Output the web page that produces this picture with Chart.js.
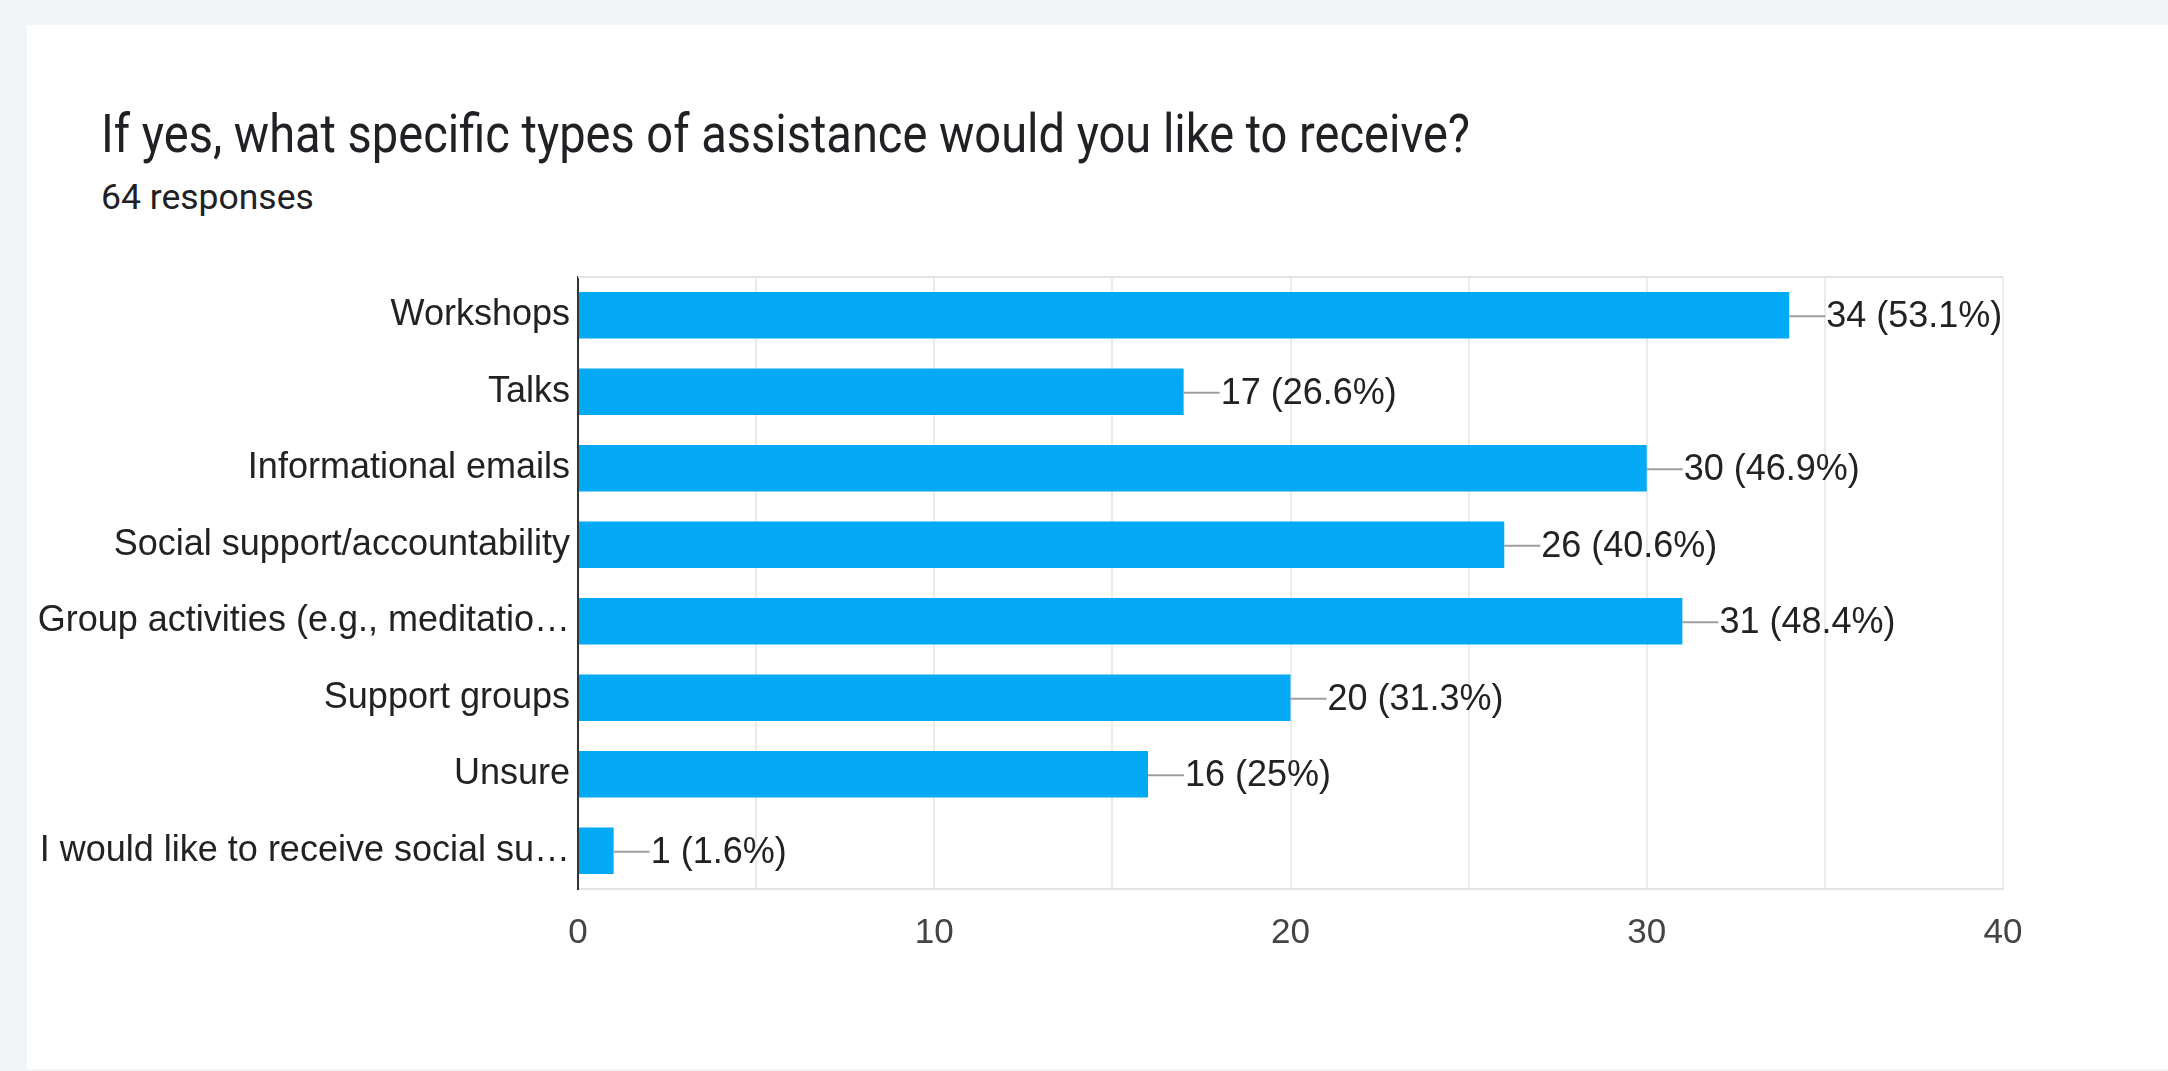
<!DOCTYPE html>
<html>
<head>
<meta charset="utf-8">
<title>If yes, what specific types of assistance would you like to receive?</title>
<script src="https://cdn.jsdelivr.net/npm/chart.js@4/dist/chart.umd.min.js"></script>
<style>
  html, body {
    margin: 0;
    padding: 0;
    width: 2168px;
    height: 1071px;
    overflow: hidden;
    background: #f1f5f7;
  }
  .card {
    position: absolute;
    left: 27px;
    top: 25px;
    right: 0;
    bottom: 2px;
    background: #ffffff;
  }
  .title {
    position: absolute;
    left: 101px;
    top: 103px;
    margin: 0;
    font-family: Roboto, "Noto Sans", sans-serif;
    font-weight: 400;
    font-size: 47px;
    line-height: 66px;
    color: #202124;
    white-space: nowrap;
    transform: scaleY(1.14);
    transform-origin: 0 49px;
  }
  .subtitle {
    position: absolute;
    left: 101px;
    top: 175px;
    margin: 0;
    font-family: Roboto, "Noto Sans", sans-serif;
    font-size: 35.5px;
    line-height: 44px;
    color: #202124;
    white-space: nowrap;
  }
  #chart {
    position: absolute;
    left: 0;
    top: 0;
  }
</style>
</head>
<body>
<div class="card"></div>
<h1 class="title">If yes, what specific types of assistance would you like to receive?</h1>
<p class="subtitle">64 responses</p>
<canvas id="chart" width="2168" height="1071"></canvas>

<script>
// Réponses au formulaire
const totalResponses = 64;

const categories = [
  "Workshops",
  "Talks",
  "Informational emails",
  "Social support/accountability",
  "Group activities (e.g., meditatio…",
  "Support groups",
  "Unsure",
  "I would like to receive social su…"
];

const counts = [34, 17, 30, 26, 31, 20, 16, 1];

const xTicks = [0, 10, 20, 30, 40];

const barColor = '#03a9f4';
const labelFont = '"Liberation Sans", Arial, sans-serif';

// Pourcentage arrondi à une décimale, sans ".0"
function percentText(value) {
  const pct = (value / totalResponses * 100).toFixed(1);
  return pct.endsWith('.0') ? pct.slice(0, -2) : pct;
}

// Cadre du haut + étiquettes "n (x%)" avec trait gris
const valueLabels = {
  id: 'valueLabels',
  afterDatasetsDraw(chart) {
    const ctx = chart.ctx;
    const area = chart.chartArea;

    ctx.save();
    ctx.strokeStyle = '#e3e3e3';
    ctx.lineWidth = 2;
    ctx.beginPath();
    ctx.moveTo(area.left, area.top);
    ctx.lineTo(area.right, area.top);
    ctx.stroke();

    const meta = chart.getDatasetMeta(0);
    ctx.font = '36px ' + labelFont;
    ctx.textBaseline = 'middle';
    ctx.textAlign = 'left';
    meta.data.forEach((bar, i) => {
      const value = counts[i];
      ctx.strokeStyle = '#9e9e9e';
      ctx.lineWidth = 2;
      ctx.beginPath();
      ctx.moveTo(bar.x, bar.y + 1);
      ctx.lineTo(bar.x + 36, bar.y + 1);
      ctx.stroke();
      ctx.fillStyle = '#222222';
      ctx.fillText(`${value} (${percentText(value)}%)`, bar.x + 37, bar.y + 2);
    });
    ctx.restore();
  }
};

function initChart() {
  const ctx = document.getElementById('chart').getContext('2d');

  new Chart(ctx, {
    type: 'bar',
    data: {
      labels: categories,
      datasets: [{
        data: counts,
        backgroundColor: barColor,
        borderWidth: 0,
        categoryPercentage: 1,
        barPercentage: 0.61
      }]
    },
    options: {
      indexAxis: 'y',
      responsive: false,
      animation: false,
      devicePixelRatio: 1,
      layout: {
        padding: { left: 20, right: 165, top: 277, bottom: 122 }
      },
      plugins: {
        legend: { display: false },
        tooltip: { enabled: false }
      },
      scales: {
        x: {
          min: xTicks[0],
          max: xTicks[xTicks.length - 1],
          afterFit: (scale) => { scale.height = 60; },
          ticks: {
            stepSize: 5,
            autoSkip: false,
            maxRotation: 0,
            padding: 23,
            color: '#444444',
            font: { family: labelFont, size: 35 },
            callback: (value) => xTicks.includes(value) ? value : ''
          },
          grid: {
            color: '#ebebeb',
            lineWidth: 2,
            drawTicks: false
          },
          border: { color: '#e3e3e3', width: 2 }
        },
        y: {
          afterFit: (scale) => { scale.width = 558; },
          ticks: {
            padding: 8,
            color: '#222222',
            font: { family: labelFont, size: 36 }
          },
          grid: { display: false, drawTicks: false },
          border: { color: '#333333', width: 2 }
        }
      }
    },
    plugins: [valueLabels]
  });
}

window.addEventListener('DOMContentLoaded', initChart);
</script>
</body>
</html>
